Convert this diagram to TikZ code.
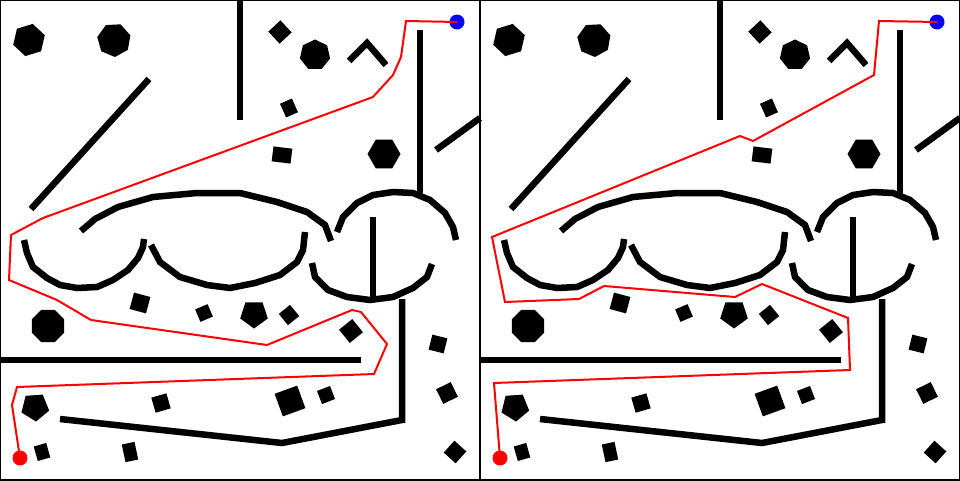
\documentclass[tikz,border=0pt]{standalone}
\usepackage{tikz}
\usetikzlibrary{positioning}
\definecolor{routered}{HTML}{FF0000}
\definecolor{goalblue}{HTML}{0000FF}
\newcommand{\ngon}[5]{\fill[shift={(#1,#2)}] (#5:#3) \foreach \k in {1,...,#4} {-- (#5+\k*360/#4:#3)} -- cycle;}
\newcommand{\blk}[5]{\fill[shift={(#1,#2)},rotate=#5] (-#3/2,-#4/2) rectangle (#3/2,#4/2);}
\newcommand{\obstacles}{%
  \draw[frame] (0,0) rectangle (480,480);
  \ngon{29}{40}{16.5}{6}{-17} \ngon{114}{40}{17}{7}{87} \ngon{315}{55}{15.5}{7}{-90}
  \ngon{384}{154}{16.5}{6}{0} \ngon{48}{326}{17.5}{8}{22.5}
  \ngon{254}{314}{14.5}{5}{90} \ngon{35}{407}{14.6}{5}{86}
  \blk{280}{32}{16.5}{16.5}{-47} \blk{289}{108}{13}{15}{24} \blk{282}{155}{19}{15}{-7}
  \blk{140}{303}{17}{17}{-15} \blk{204}{313}{13.5}{13.5}{23} \blk{289}{315}{14.5}{14.5}{39}
  \blk{351}{331}{17}{17}{39} \blk{438}{344}{15.5}{15.5}{-14} \blk{447}{393}{16.3}{16.3}{26}
  \blk{455}{452}{16}{16}{48} \blk{290}{401}{24}{24}{20} \blk{326}{395}{14}{14}{21}
  \blk{161}{403}{15.7}{15.7}{16} \blk{42}{452}{13}{15}{16} \blk{130}{452}{13}{18}{12}
  \draw[wall] (240,0) -- (240,120);
  \draw[wall] (31,209) -- (149,79);
  \draw[wall] (349,61) -- (367,43) -- (386,65);
  \draw[wall] (420,30) -- (420,193);
  \draw[wall] (436,150) -- (480,118);
  \draw[wall] (0,360) -- (361,360);
  \draw[wall] (60,419) -- (282,443) -- (402,420) -- (402,299);
  \draw[wall] (373,217) -- (373,298);
  \draw[wall] (24,240) -- (27,253) -- (33,267) -- (47,278) -- (60,285) -- (77,288) -- (97,287)
    -- (113,280) -- (128,270) -- (138,258) -- (143,247) -- (144,239);
  \draw[wall] (81,231) -- (95,219) -- (118,207) -- (153,197) -- (197,193) -- (240,193)
    -- (277,202) -- (307,212) -- (325,225) -- (331,241);
  \draw[wall] (151,245) -- (160,262) -- (180,277) -- (207,285) -- (230,288) -- (255,283)
    -- (280,275) -- (297,262) -- (303,250) -- (305,232);
  \draw[wall] (337,232) -- (343,217) -- (357,203) -- (373,195) -- (393,192) -- (413,193)
    -- (430,200) -- (445,213) -- (453,227) -- (456,240);
  \draw[wall] (312,263) -- (315,277) -- (328,290) -- (347,297) -- (370,300) -- (393,297)
    -- (413,288) -- (427,277) -- (432,264);
}

\begin{document}
\begin{tikzpicture}[x=0.02cm,y=-0.02cm,
  frame/.style={draw=black,line width=0.04cm},
  wall/.style={draw=black,line width=0.13cm},
  route/.style={draw=routered,line width=0.04cm},
  startdot/.style={circle,fill=routered,minimum size=0.3cm,inner sep=0pt},
  goaldot/.style={circle,fill=goalblue,minimum size=0.3cm,inner sep=0pt}]
  \useasboundingbox (0,0) rectangle (960,480);
  \begin{scope}
    \obstacles
    \node[startdot] (startL) at (20,458) {};
    \node[goaldot] (goalL) at (457,22) {};
    \draw[route] (startL.center) -- (12,405) -- (17,387) -- (374,374) -- (387,344) -- (361,312)
      -- (352,310) -- (267,345) -- (91,320) -- (57,300) -- (9,280) -- (11,235) -- (43,218)
      -- (373,97) -- (393,75) -- (401,57) -- (406,21) -- (goalL.center);
  \end{scope}
  \begin{scope}[shift={(480,0)}]
    \obstacles
    \node[startdot] (startR) at (20,458) {};
    \node[goaldot] (goalR) at (457,22) {};
    \draw[route] (startR.center) -- (14,383) -- (370,370) -- (368,318) -- (282,284) -- (255,297)
      -- (124,286) -- (99,299) -- (25,302) -- (12,237) -- (260,136) -- (273,141) -- (394,75)
      -- (399,21) -- (goalR.center);
  \end{scope}
\end{tikzpicture}
\end{document}
